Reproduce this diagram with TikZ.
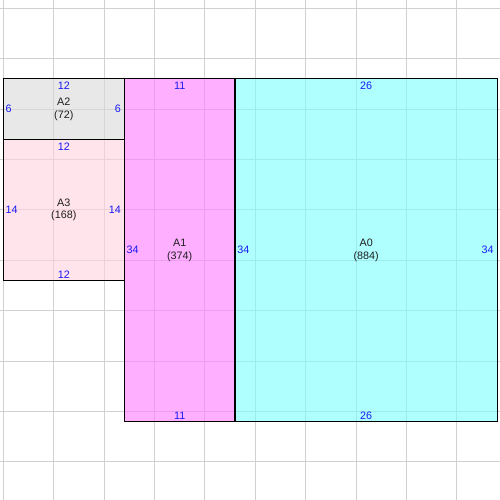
\documentclass[tikz,border=0pt]{standalone}
\usepackage{fontspec}
\setmainfont{Liberation Sans}
\definecolor{cAtwo}{RGB}{217,217,217}
\definecolor{cAthree}{RGB}{255,210,223}
\definecolor{cAone}{RGB}{255,123,255}
\definecolor{cAzero}{RGB}{123,255,255}
\definecolor{gridc}{RGB}{208,208,208}
\definecolor{labc}{RGB}{25,25,245}
\definecolor{txtc}{RGB}{30,30,30}
\tikzset{
  sheet/.style={draw=black, line width=0.9pt, fill opacity=0.6, draw opacity=1, inner sep=0pt, outer sep=0pt, anchor=north west},
  lab/.style={text=labc, inner sep=0pt, font=\fontsize{7.6}{9.1}\selectfont},
  ctr/.style={text=txtc, inner sep=0pt, align=center, font=\fontsize{7.6}{9.1}\selectfont},
}
\begin{document}
\begin{tikzpicture}[x=0.25cm, y=-0.25cm]
\useasboundingbox[fill=white] (-0.33,-0.82) rectangle (49.28,48.78);
% grid
\foreach \k in {0,5,...,45} {
  \draw[gridc, line width=0.6pt] (\k,-0.82) -- (\k,48.78);
  \draw[gridc, line width=0.6pt] (-0.33,\k) -- (49.28,\k);
}
% sheets
\node (A2) [sheet, fill=cAtwo, minimum width=3cm, minimum height=1.5cm] at (0,7) {};
\node (A3) [sheet, fill=cAthree, minimum width=3cm, minimum height=3.5cm] at (0,13) {};
\node (A1) [sheet, fill=cAone, minimum width=2.75cm, minimum height=8.5cm] at (12,7) {};
\node (A0) [sheet, fill=cAzero, minimum width=6.5cm, minimum height=8.5cm] at (23,7) {};
% A2 labels
\node (A2t) [lab, anchor=north] at ([yshift=-0.075cm]A2.north) {12};
\node (A2l) [lab, anchor=west] at ([xshift=0.05cm]A2.west) {6};
\node (A2r) [lab, anchor=east] at ([xshift=-0.08cm]A2.east) {6};
\node (A2c) [ctr] at (A2.center) {A2\\(72)};
% A3 labels
\node (A3t) [lab, anchor=north] at ([yshift=-0.075cm]A3.north) {12};
\node (A3b) [lab, anchor=south] at ([yshift=0.045cm]A3.south) {12};
\node (A3l) [lab, anchor=west] at ([xshift=0.05cm]A3.west) {14};
\node (A3r) [lab, anchor=east] at ([xshift=-0.08cm]A3.east) {14};
\node (A3c) [ctr] at (A3.center) {A3\\(168)};
% A1 labels
\node (A1t) [lab, anchor=north] at ([yshift=-0.075cm]A1.north) {11};
\node (A1b) [lab, anchor=south] at ([yshift=0.045cm]A1.south) {11};
\node (A1l) [lab, anchor=west] at ([xshift=0.05cm]A1.west) {34};
\node (A1c) [ctr] at (A1.center) {A1\\(374)};
% A0 labels
\node (A0t) [lab, anchor=north] at ([yshift=-0.075cm]A0.north) {26};
\node (A0b) [lab, anchor=south] at ([yshift=0.045cm]A0.south) {26};
\node (A0l) [lab, anchor=west] at ([xshift=0.05cm]A0.west) {34};
\node (A0r) [lab, anchor=east] at ([xshift=-0.08cm]A0.east) {34};
\node (A0c) [ctr] at (A0.center) {A0\\(884)};
\end{tikzpicture}
\end{document}
